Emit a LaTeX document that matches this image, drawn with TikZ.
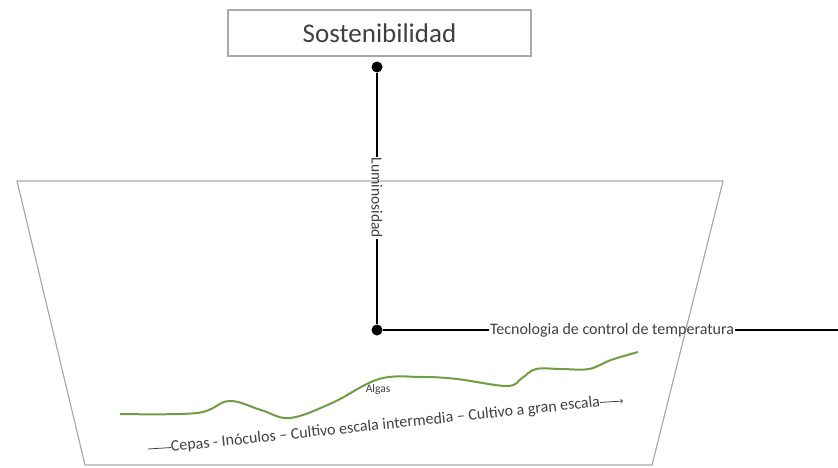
\documentclass[tikz,border=0pt]{standalone}
\usepackage{fontspec}
\setmainfont{Carlito}
\usetikzlibrary{calc,positioning}
\definecolor{alga}{RGB}{110,158,68}
\definecolor{marco}{RGB}{170,170,170}
\definecolor{texto}{RGB}{64,64,64}

\begin{document}
\begin{tikzpicture}[x=1pt, y=-1pt, every node/.style={text=texto, inner sep=1pt},
    eje/.style={line width=2.4pt, black},
    punto/.style={circle, fill=black, inner sep=0pt, minimum size=11pt}]
    \useasboundingbox (0,0) rectangle (838,468);

    \draw[marco, line width=1.2pt] (17,181) -- (723,181) -- (652,465) -- (85,465) -- cycle;

    \node[draw=marco, line width=1.2pt, minimum width=303pt, minimum height=46pt, font=\fontsize{27}{30}\selectfont] (sost) at (379.5,33) {Sostenibilidad};
    \node[punto] (arriba) at (377,67) {};
    \node[punto] (centro) at (377,330) {};
    \node[rotate=-90, font=\fontsize{15.5}{17}\selectfont] (lum) at (377,198) {Luminosidad};
    \node[font=\fontsize{16}{18}\selectfont] (tec) at (612,330) {Tecnologia de control de temperatura};
    \coordinate (derecha) at (838,330);

    \draw[eje] (arriba) -- (lum.west);
    \draw[eje] (lum.east) -- (centro);
    \draw[eje] (centro) -- (tec.west);
    \draw[eje] (tec.east) -- (derecha);

    % algas
    \draw[alga, line width=2pt] plot[smooth, tension=0.6] coordinates {(120,414) (197,413) (229,401) (261,410) (290,418) (332,403) (379,379) (422,377) (457,379) (507,386) (522,378) (536,369) (561,369) (589,369) (611,360) (638,352)};
    \node[font=\fontsize{11.5}{13}\selectfont, inner sep=0pt] (algas) at (378,389) {Algas};

    % proceso
    \coordinate (inicio) at (148,449);
    \coordinate (fin) at (623,401);
    \node[rotate=6, font=\fontsize{16}{18}\selectfont, inner sep=0pt] (proceso) at ($(inicio)!0.5!(fin)$) {Cepas - Inóculos – Cultivo escala intermedia – Cultivo a gran escala};
    \draw[texto, line width=0.8pt] (inicio) -- (proceso.west);
    \draw[texto, line width=0.8pt, ->] (proceso.east) -- (fin);
\end{tikzpicture}
\end{document}
